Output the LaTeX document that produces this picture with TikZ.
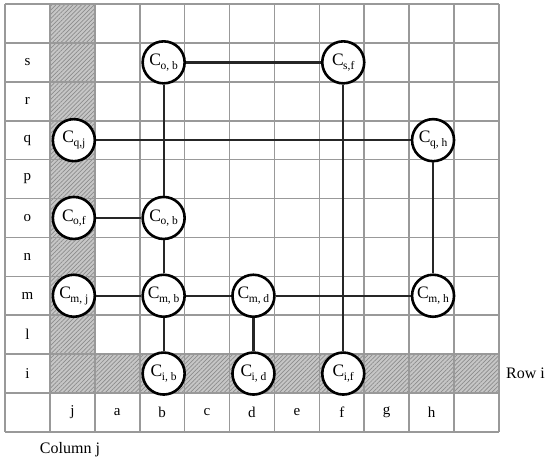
\documentclass[tikz,border=0pt]{standalone}
\usepackage{fontspec}
\setmainfont{Liberation Serif}
\usetikzlibrary{patterns.meta}
\newcommand{\cell}[1]{{\fontsize{17.5}{17.5}\selectfont C}\kern-0.5pt\raisebox{-3.5pt}{\fontsize{11.5}{11.5}\selectfont #1}}
\tikzset{
  cnode/.style={circle, draw=black, line width=2.6pt, fill=white, minimum size=42pt, inner sep=0pt},
  lbl/.style={font=\fontsize{15}{15}\selectfont, inner sep=0pt},
  conn/.style={line width=2.3pt, black!85},
  gridline/.style={line width=1.6pt, gray!80},
  hatchfill/.style={fill=gray!45},
  hatchlines/.style={pattern={Lines[angle=45,distance=3pt,line width=0.7pt]}, pattern color=gray!90}
}
\begin{document}
\begin{tikzpicture}[x=1pt,y=-1pt]
\useasboundingbox (0,0) rectangle (550,464);
\def\xo{5}\def\dx{44.9}\def\yo{4}\def\dy{38.9}
% hatched column j (rows 0..9) and row i (cols 1..10)
\foreach \st in {hatchfill,hatchlines}{
  \path[\st] ({\xo+\dx},{\yo}) rectangle ({\xo+2*\dx},{\yo+10*\dy});
  \path[\st] ({\xo+2*\dx},{\yo+9*\dy}) rectangle ({\xo+11*\dx},{\yo+10*\dy});
}
% grid
\foreach \k in {0,...,11}{
  \draw[gridline] ({\xo+\k*\dx},{\yo}) -- ({\xo+\k*\dx},{\yo+11*\dy});
  \draw[gridline] ({\xo},{\yo+\k*\dy}) -- ({\xo+11*\dx},{\yo+\k*\dy});
}
% row labels
\foreach \r/\t in {1/s,2/r,3/q,4/p,5/o,6/n,7/m,8/l,9/i}{
  \node[lbl] (row\t) at ({\xo+0.5*\dx},{\yo+(\r+0.5)*\dy}) {\t};
}
% column labels
\foreach \c/\t in {1/j,2/a,3/b,4/c,5/d,6/e,7/f,8/g,9/h}{
  \node[lbl] (col\t) at ({\xo+(\c+0.5)*\dx},{\yo+10.5*\dy}) {\t};
}
\node[lbl, anchor=west, font=\fontsize{16}{16}\selectfont] (rowi) at (506,{\yo+9.5*\dy}) {Row i};
\node[lbl, font=\fontsize{16}{16}\selectfont] (colj) at (70,450) {Column j};
% circle nodes
\newcommand{\place}[4]{\node[cnode] (#1) at ({\xo+(#2+0.5)*\dx+1.5},{\yo+(#3+0.5)*\dy}) {\cell{#4}};}
\place{cobs}{3}{1}{o, b}
\place{csf}{7}{1}{s,f}
\place{cqj}{1}{3}{q,j}
\place{cqh}{9}{3}{q, h}
\place{cof}{1}{5}{o,f}
\place{cobo}{3}{5}{o, b}
\place{cmj}{1}{7}{m, j}
\place{cmb}{3}{7}{m, b}
\place{cmd}{5}{7}{m, d}
\place{cmh}{9}{7}{m, h}
\place{cib}{3}{9}{i, b}
\place{cid}{5}{9}{i, d}
\place{cif}{7}{9}{i,f}
% connectors
\draw[conn] (cobs) -- (csf);
\draw[conn] (cobs) -- (cobo);
\draw[conn] (cqj) -- (cqh);
\draw[conn] (csf) -- (cif);
\draw[conn] (cqh) -- (cmh);
\draw[conn] (cof) -- (cobo);
\draw[conn] (cobo) -- (cmb);
\draw[conn] (cmj) -- (cmb);
\draw[conn] (cmb) -- (cmd);
\draw[conn] (cmd) -- (cmh);
\draw[conn] (cmb) -- (cib);
\draw[conn] (cmd) -- (cid);
\end{tikzpicture}
\end{document}
